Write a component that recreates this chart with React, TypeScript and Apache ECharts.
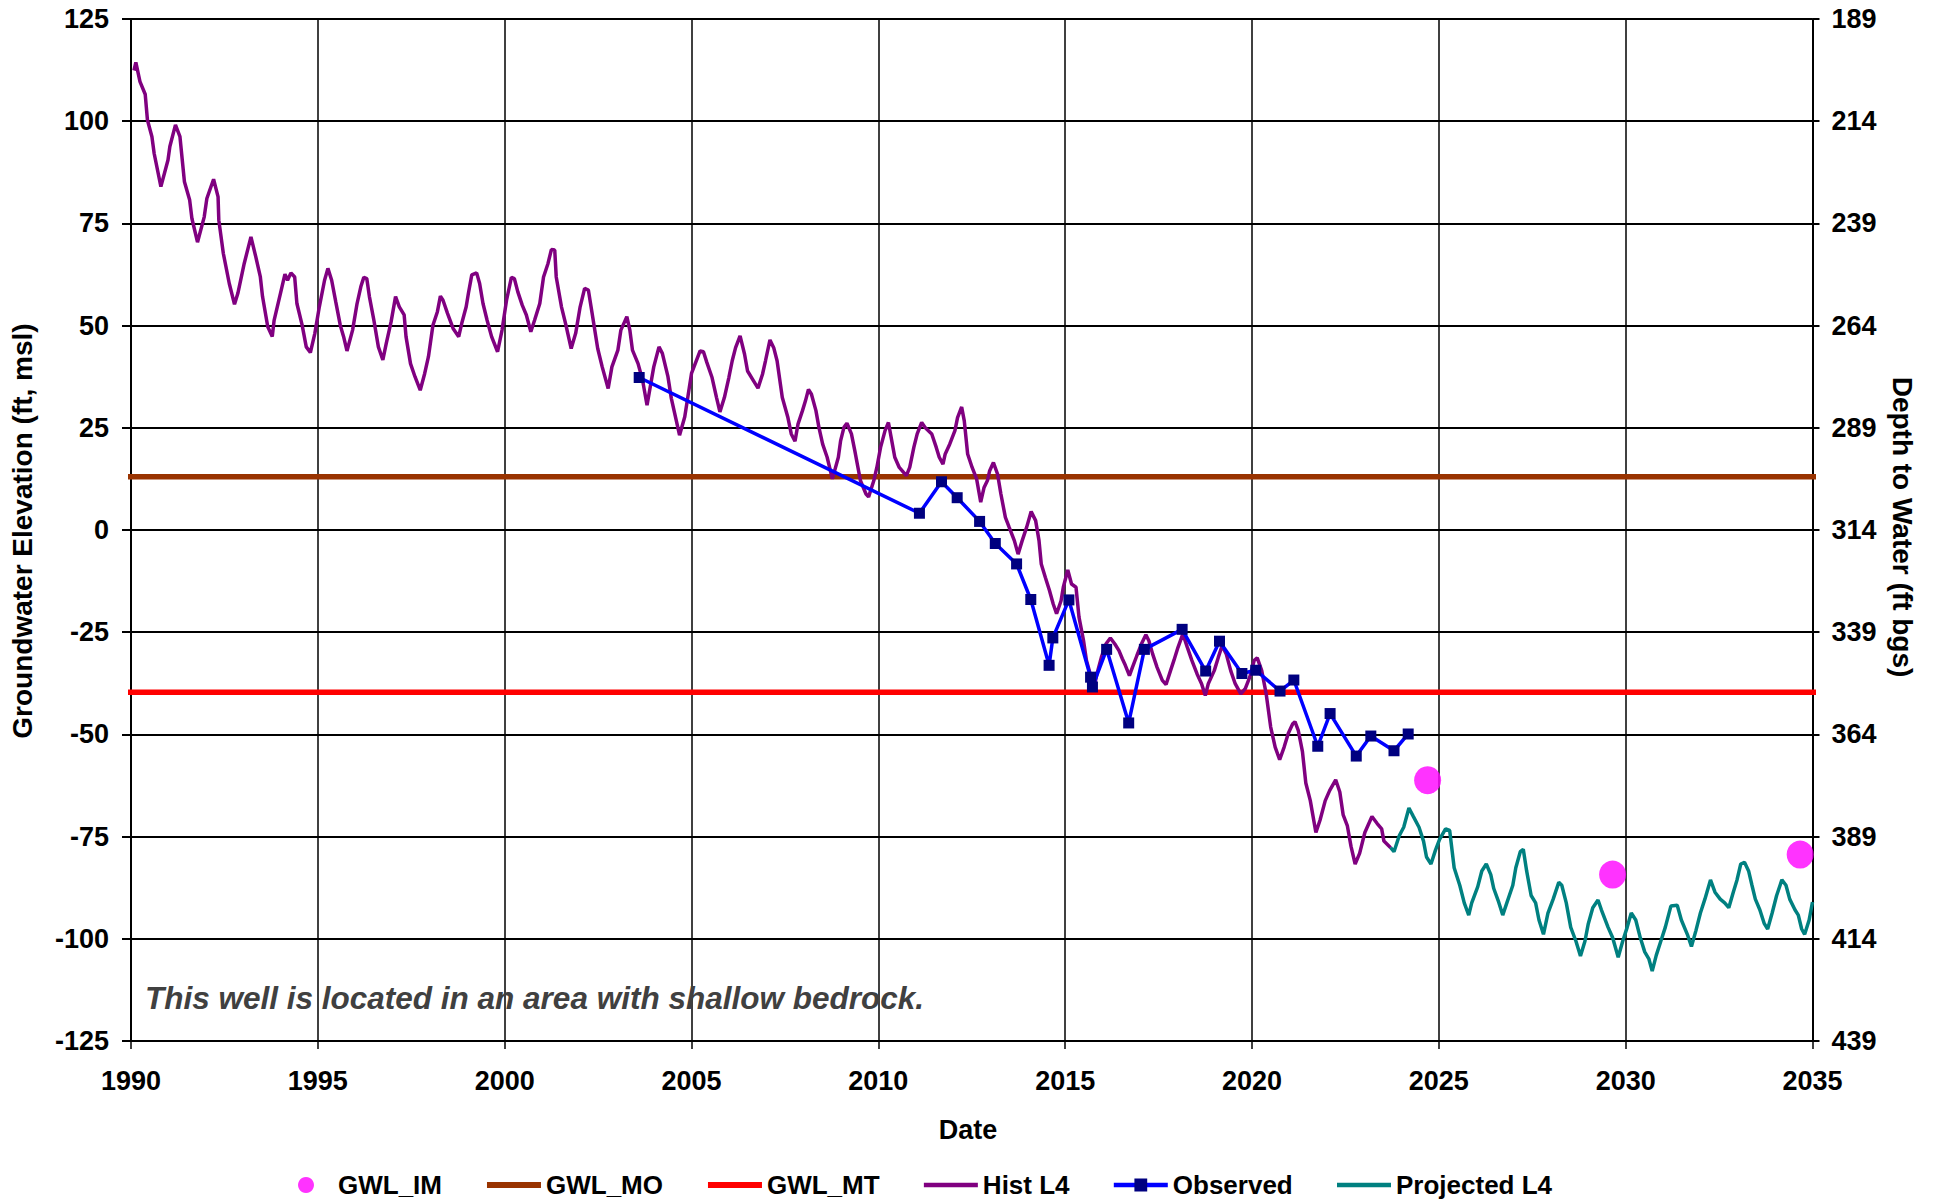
import React, { useEffect, useRef } from "react";
import * as echarts from "echarts";

// Hydrograph: groundwater elevation (left axis) with depth to water (right axis = 314 - elevation)
const FONT = "'Liberation Sans', Arial, Helvetica, sans-serif";
const GROUND_SURFACE = 314;

const xTicksMin = 1990;
const xTicksMax = 2035;
const yMin = -125;
const yMax = 125;

// Interim milestones
const imDates = [2024.7, 2029.65, 2034.67];
const imLevels = [-61.2, -84.3, -79.4];

// Measurable objective and minimum threshold (horizontal lines)
const moLevel = 13;
const mtLevel = -39.7;
const thresholdSpan = [1989.5, 2035.45];

// Historical simulated levels (Hist L4)
const histDates = [
  1990.08, 1990.13, 1990.24, 1990.38, 1990.44, 1990.56, 1990.62, 1990.8, 1990.99, 1991.04,
  1991.19, 1991.31, 1991.43, 1991.57, 1991.63, 1991.78, 1991.96, 1992.03, 1992.21, 1992.33,
  1992.35, 1992.47, 1992.63, 1992.77, 1992.86, 1993.03, 1993.21, 1993.34, 1993.46, 1993.52,
  1993.66, 1993.78, 1993.83, 1994.0, 1994.12, 1994.19, 1994.28, 1994.38, 1994.44, 1994.58,
  1994.69, 1994.8, 1994.92, 1995.04, 1995.18, 1995.27, 1995.37, 1995.48, 1995.6, 1995.69,
  1995.78, 1995.93, 1996.05, 1996.15, 1996.23, 1996.31, 1996.38, 1996.5, 1996.62, 1996.74,
  1996.83, 1996.96, 1997.08, 1997.18, 1997.31, 1997.36, 1997.48, 1997.6, 1997.74, 1997.86,
  1997.96, 1998.08, 1998.2, 1998.28, 1998.35, 1998.47, 1998.62, 1998.77, 1998.85, 1998.97,
  1999.03, 1999.12, 1999.25, 1999.33, 1999.42, 1999.53, 1999.65, 1999.81, 1999.93, 2000.05,
  2000.18, 2000.26, 2000.35, 2000.47, 2000.58, 2000.7, 2000.8, 2000.94, 2001.04, 2001.16,
  2001.25, 2001.34, 2001.38, 2001.52, 2001.63, 2001.78, 2001.9, 2002.02, 2002.14, 2002.24,
  2002.34, 2002.49, 2002.61, 2002.77, 2002.87, 2003.03, 2003.11, 2003.27, 2003.35, 2003.42,
  2003.57, 2003.69, 2003.81, 2003.99, 2004.13, 2004.22, 2004.37, 2004.46, 2004.68, 2004.82,
  2005.0, 2005.23, 2005.32, 2005.41, 2005.55, 2005.67, 2005.76, 2005.88, 2006.0, 2006.09,
  2006.18, 2006.3, 2006.42, 2006.5, 2006.66, 2006.78, 2006.9, 2006.98, 2007.1, 2007.2,
  2007.29, 2007.43, 2007.58, 2007.67, 2007.77, 2007.85, 2007.97, 2008.05, 2008.13, 2008.21,
  2008.33, 2008.41, 2008.51, 2008.63, 2008.77, 2008.93, 2008.99, 2009.08, 2009.16, 2009.28,
  2009.37, 2009.52, 2009.67, 2009.74, 2009.88, 2009.96, 2010.06, 2010.18, 2010.27, 2010.36,
  2010.44, 2010.56, 2010.75, 2010.84, 2010.95, 2011.04, 2011.16, 2011.25, 2011.43, 2011.55,
  2011.63, 2011.73, 2011.79, 2011.91, 2012.05, 2012.12, 2012.23, 2012.3, 2012.39, 2012.51,
  2012.63, 2012.74, 2012.83, 2012.92, 2012.98, 2013.08, 2013.19, 2013.28, 2013.4, 2013.5,
  2013.64, 2013.74, 2013.85, 2013.97, 2014.09, 2014.21, 2014.3, 2014.36, 2014.47, 2014.58,
  2014.68, 2014.77, 2014.89, 2014.95, 2015.07, 2015.17, 2015.29, 2015.37, 2015.49, 2015.57,
  2015.67, 2015.76, 2015.85, 2015.97, 2016.09, 2016.21, 2016.33, 2016.44, 2016.53, 2016.61,
  2016.72, 2016.8, 2016.92, 2017.04, 2017.16, 2017.24, 2017.34, 2017.46, 2017.6, 2017.7,
  2017.82, 2017.91, 2018.02, 2018.15, 2018.27, 2018.39, 2018.53, 2018.65, 2018.75, 2018.83,
  2018.99, 2019.1, 2019.2, 2019.31, 2019.43, 2019.55, 2019.7, 2019.82, 2019.94, 2020.06,
  2020.14, 2020.26, 2020.38, 2020.5, 2020.62, 2020.74, 2020.86, 2020.97, 2021.09, 2021.15,
  2021.24, 2021.35, 2021.44, 2021.56, 2021.71, 2021.82, 2021.96, 2022.08, 2022.24, 2022.35,
  2022.44, 2022.55, 2022.65, 2022.76, 2022.88, 2023.02, 2023.21, 2023.35, 2023.47, 2023.53,
  2023.71,
];
const histLevels = [
  112.4, 114.4, 109.7, 106.6, 100.3, 96.2, 92.1, 84.0, 90.5, 93.8,
  99.1, 96.2, 85.2, 80.7, 76.2, 70.4, 76.6, 81.1, 85.8, 81.5,
  75.8, 67.7, 60.3, 55.2, 57.9, 65.2, 71.7, 66.8, 62.0, 57.1,
  49.7, 47.3, 51.3, 57.9, 62.6, 61.1, 62.9, 61.9, 55.4, 50.1,
  44.8, 43.4, 48.1, 54.6, 61.1, 64.0, 61.1, 55.8, 50.1, 47.3,
  43.8, 48.9, 55.4, 59.5, 61.8, 61.5, 57.1, 51.3, 44.8, 41.6,
  45.6, 50.9, 57.1, 54.6, 52.6, 47.3, 40.7, 37.5, 34.2, 38.3,
  42.4, 50.1, 53.4, 57.2, 56.2, 53.0, 49.3, 47.3, 50.5, 54.6,
  57.9, 62.4, 62.9, 60.3, 55.4, 51.3, 47.3, 43.6, 48.9, 56.2,
  61.8, 61.5, 58.3, 55.0, 52.6, 48.5, 51.3, 55.4, 61.9, 65.2,
  68.6, 68.5, 61.9, 54.6, 50.5, 44.4, 48.1, 54.6, 59.1, 58.7,
  53.0, 44.4, 39.9, 34.6, 39.9, 44.0, 48.9, 52.2, 48.9, 44.0,
  40.7, 36.7, 30.5, 39.9, 44.8, 43.2, 37.5, 32.2, 23.2, 27.7,
  38.3, 43.8, 43.6, 41.0, 37.3, 32.4, 28.9, 32.4, 37.3, 41.4,
  44.6, 47.5, 43.0, 38.9, 36.5, 34.7, 38.1, 41.4, 46.5, 44.6,
  41.4, 32.4, 27.5, 23.5, 21.7, 25.9, 29.2, 31.6, 34.4, 33.2,
  29.2, 25.1, 21.0, 17.8, 12.5, 17.8, 21.8, 25.1, 26.1, 23.5,
  19.4, 12.1, 8.8, 8.1, 12.1, 15.3, 20.2, 24.3, 26.3, 21.8,
  17.8, 15.3, 13.3, 15.3, 20.2, 23.5, 26.3, 25.1, 23.5, 20.2,
  17.8, 16.1, 18.6, 21.0, 24.3, 27.5, 30.1, 26.7, 18.6, 15.3,
  12.5, 6.8, 10.4, 12.1, 14.5, 16.5, 13.7, 8.8, 3.1, 0.7,
  -2.6, -5.9, -2.6, 0.7, 4.5, 2.3, -2.6, -8.3, -11.6, -14.8,
  -18.1, -20.5, -17.3, -14.0, -9.8, -13.2, -14.0, -21.3, -27.0, -31.9,
  -35.2, -39.2, -35.2, -31.1, -27.9, -26.4, -27.9, -29.5, -31.5, -33.1,
  -35.6, -33.6, -30.7, -27.9, -25.6, -27.1, -30.3, -33.6, -36.8, -37.8,
  -34.4, -31.9, -28.7, -25.4, -28.7, -31.9, -35.2, -37.6, -40.5, -37.6,
  -34.4, -31.1, -28.3, -30.3, -34.4, -37.6, -40.1, -38.8, -36.0, -31.9,
  -31.3, -34.4, -40.1, -48.2, -53.1, -56.2, -53.1, -49.8, -47.4, -46.9,
  -49.1, -54.2, -61.9, -66.2, -74.0, -71.0, -66.2, -63.7, -61.1, -64.1,
  -69.7, -72.3, -77.4, -81.7, -79.1, -74.0, -70.1, -71.8, -73.1, -76.1,
  -77.7,
];

// Observed measurements
const obsDates = [
  2003.6, 2011.1, 2011.69, 2012.11, 2012.71, 2013.13, 2013.7, 2014.08, 2014.57, 2014.67,
  2015.1, 2015.68, 2015.73, 2016.11, 2016.7, 2017.12, 2018.13, 2018.76, 2019.13, 2019.73,
  2020.1, 2020.75, 2021.12, 2021.76, 2022.09, 2022.79, 2023.18, 2023.8, 2024.18,
];
const obsLevels = [
  37.3, 4.1, 11.8, 7.9, 2.1, -3.3, -8.3, -17.0, -33.1, -26.4,
  -17.1, -36.0, -38.4, -29.2, -47.2, -29.2, -24.3, -34.5, -27.2, -35.1,
  -34.3, -39.4, -36.7, -52.9, -44.9, -55.3, -50.4, -54.0, -49.9,
];

// Projected levels (Projected L4)
const projDates = [
  2023.71, 2023.8, 2023.94, 2024.06, 2024.2, 2024.32, 2024.47, 2024.59, 2024.67, 2024.79,
  2024.91, 2025.02, 2025.18, 2025.29, 2025.41, 2025.56, 2025.68, 2025.8, 2025.88, 2026.04,
  2026.15, 2026.27, 2026.39, 2026.47, 2026.59, 2026.71, 2026.82, 2026.98, 2027.06, 2027.18,
  2027.26, 2027.35, 2027.47, 2027.59, 2027.68, 2027.8, 2027.92, 2028.06, 2028.21, 2028.29,
  2028.41, 2028.53, 2028.67, 2028.79, 2028.91, 2029.0, 2029.12, 2029.26, 2029.35, 2029.53,
  2029.65, 2029.8, 2029.92, 2030.04, 2030.15, 2030.27, 2030.39, 2030.51, 2030.62, 2030.71,
  2030.82, 2030.94, 2031.06, 2031.21, 2031.38, 2031.49, 2031.65, 2031.76, 2031.88, 2032.0,
  2032.12, 2032.27, 2032.39, 2032.53, 2032.65, 2032.76, 2032.88, 2032.98, 2033.08, 2033.18,
  2033.29, 2033.38, 2033.47, 2033.59, 2033.71, 2033.8, 2033.92, 2034.04, 2034.18, 2034.29,
  2034.39, 2034.53, 2034.62, 2034.71, 2034.79, 2034.91, 2035.0,
];
const projLevels = [
  -77.7, -78.7, -74.8, -72.7, -68.0, -70.1, -72.7, -76.1, -80.0, -81.7,
  -78.3, -75.7, -73.1, -73.5, -82.6, -86.9, -91.2, -94.2, -91.2, -87.3,
  -83.4, -81.7, -84.3, -87.7, -90.7, -94.2, -91.2, -86.9, -82.6, -78.7,
  -78.1, -83.4, -89.4, -91.2, -95.4, -98.9, -93.7, -90.3, -86.2, -86.9,
  -91.2, -97.2, -100.6, -104.2, -100.6, -96.3, -92.4, -90.5, -92.9, -97.2,
  -99.7, -104.5, -100.6, -97.2, -93.7, -95.4, -99.7, -103.2, -104.9, -107.9,
  -104.0, -100.6, -97.2, -92.0, -91.8, -95.4, -98.9, -101.9, -98.0, -93.7,
  -90.3, -85.6, -88.6, -90.3, -91.2, -92.4, -88.6, -85.6, -81.7, -81.3,
  -83.4, -86.9, -90.3, -92.9, -96.3, -97.6, -93.7, -89.4, -85.6, -86.9,
  -90.3, -92.9, -94.2, -97.6, -98.9, -95.4, -91.0,
];

const zip = (xs: number[], ys: number[]) => xs.map((x, i) => [x, ys[i]]);

// Line-only legend entries: hide the marker that ECharts draws in the middle of the line icon
const lineOnly = (name: string, width: number) => ({
  name,
  itemStyle: { opacity: 0 },
  lineStyle: { width },
});

export default function App() {
  const ref = useRef<HTMLDivElement>(null);

  useEffect(() => {
    document.body.style.margin = "0";
    if (!ref.current) return;
    const chart = echarts.init(ref.current, undefined, { renderer: "svg" });

    const labelStyle = { color: "#000", fontSize: 27, fontWeight: "bold" as const, fontFamily: FONT };

    chart.setOption({
      animation: false,
      backgroundColor: "#ffffff",
      grid: { left: 131, right: 126.5, top: 19, bottom: 161, containLabel: false, outerBoundsMode: "none" },
      xAxis: {
        type: "value",
        min: xTicksMin,
        max: xTicksMax,
        interval: 5,
        axisLine: { show: true, onZero: false, lineStyle: { color: "#000", width: 2 } },
        axisTick: { show: true, inside: false, length: 8, lineStyle: { color: "#000", width: 1.5 } },
        axisLabel: { ...labelStyle, margin: 26, formatter: (v: number) => String(v) },
        splitLine: { show: true, lineStyle: { color: "#000", width: 1.5 } },
      },
      yAxis: [
        {
          type: "value",
          position: "left",
          min: yMin,
          max: yMax,
          interval: 25,
          axisLine: { show: true, onZero: false, lineStyle: { color: "#000", width: 2 } },
          axisTick: { show: true, inside: false, length: 9, lineStyle: { color: "#000", width: 2 } },
          axisLabel: { ...labelStyle, margin: 22 },
          splitLine: { show: true, lineStyle: { color: "#000", width: 2 } },
        },
        {
          type: "value",
          position: "right",
          min: yMin,
          max: yMax,
          interval: 25,
          axisLine: { show: true, onZero: false, lineStyle: { color: "#000", width: 2 } },
          axisTick: { show: true, inside: false, length: 7, lineStyle: { color: "#000", width: 2 } },
          axisLabel: { ...labelStyle, margin: 19, formatter: (v: number) => String(GROUND_SURFACE - v) },
          splitLine: { show: false },
        },
      ],
      legend: {
        left: 293,
        top: 1167,
        itemWidth: 54,
        itemHeight: 16,
        itemGap: 42,
        selectedMode: false,
        textStyle: { color: "#000", fontSize: 26, fontWeight: "bold", fontFamily: FONT },
        data: [
          "GWL_IM",
          lineOnly("GWL_MO", 6),
          lineOnly("GWL_MT", 6),
          lineOnly("Hist L4", 4.5),
          { name: "Observed", itemStyle: { color: "#000080" }, lineStyle: { width: 4.5 } },
          lineOnly("Projected L4", 4.5),
        ],
      },
      graphic: [
        {
          type: "text",
          x: 22,
          y: 531,
          rotation: Math.PI / 2,
          style: {
            text: "Groundwater Elevation (ft, msl)",
            fontSize: 28,
            fontWeight: "bold",
            fontFamily: FONT,
            fill: "#000",
            align: "center",
            verticalAlign: "middle",
          },
        },
        {
          type: "text",
          x: 1902,
          y: 527,
          rotation: -Math.PI / 2,
          style: {
            text: "Depth to Water (ft bgs)",
            fontSize: 28,
            fontWeight: "bold",
            fontFamily: FONT,
            fill: "#000",
            align: "center",
            verticalAlign: "middle",
          },
        },
        {
          type: "text",
          x: 968,
          y: 1130,
          style: {
            text: "Date",
            fontSize: 27,
            fontWeight: "bold",
            fontFamily: FONT,
            fill: "#000",
            align: "center",
            verticalAlign: "middle",
          },
        },
        {
          type: "text",
          x: 145,
          y: 998,
          z: 10,
          style: {
            text: "This well is located in an area with shallow bedrock.",
            fontSize: 31.5,
            fontWeight: "bold",
            fontStyle: "italic",
            fontFamily: FONT,
            fill: "#404040",
            align: "left",
            verticalAlign: "middle",
          },
        },
      ],
      series: [
        {
          name: "GWL_IM",
          type: "scatter",
          silent: true,
          symbol: "circle",
          symbolSize: [27, 28],
          itemStyle: { color: "#FF00FF" },
          data: zip(imDates, imLevels),
          z: 2,
        },
        {
          name: "GWL_MO",
          type: "line",
          silent: true,
          clip: false,
          symbol: "none",
          showSymbol: false,
          lineStyle: { color: "#993300", width: 5.5 },
          itemStyle: { color: "#993300" },
          data: thresholdSpan.map((x) => [x, moLevel]),
          z: 3,
        },
        {
          name: "GWL_MT",
          type: "line",
          silent: true,
          clip: false,
          symbol: "none",
          showSymbol: false,
          lineStyle: { color: "#FF0000", width: 5.5 },
          itemStyle: { color: "#FF0000" },
          data: thresholdSpan.map((x) => [x, mtLevel]),
          z: 3,
        },
        {
          name: "Hist L4",
          type: "line",
          silent: true,
          symbol: "none",
          showSymbol: false,
          lineStyle: { color: "#800080", width: 3.5 },
          itemStyle: { color: "#800080" },
          data: zip(histDates, histLevels),
          z: 4,
        },
        {
          name: "Observed",
          type: "line",
          silent: true,
          symbol: "rect",
          symbolSize: 11,
          showSymbol: true,
          lineStyle: { color: "#0000FF", width: 3.5 },
          itemStyle: { color: "#000080", borderWidth: 0 },
          data: zip(obsDates, obsLevels),
          z: 5,
        },
        {
          name: "Projected L4",
          type: "line",
          silent: true,
          symbol: "none",
          showSymbol: false,
          lineStyle: { color: "#008080", width: 3.5 },
          itemStyle: { color: "#008080" },
          data: zip(projDates, projLevels),
          z: 6,
        },
      ],
    });

    return () => chart.dispose();
  }, []);

  return <div ref={ref} style={{ width: 1939, height: 1202 }} />;
}
